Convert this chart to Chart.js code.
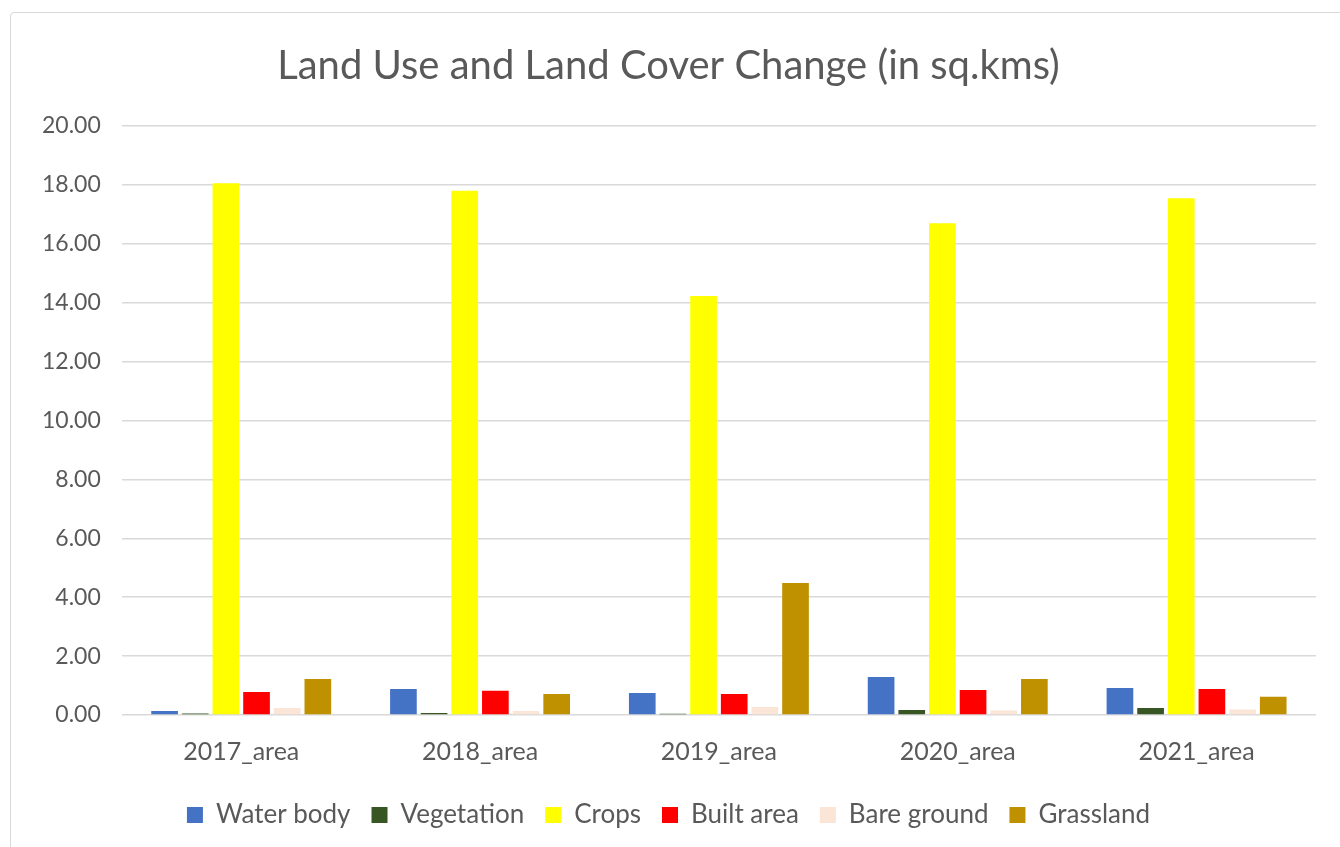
<!DOCTYPE html>
<html>
<head>
<meta charset="utf-8">
<script src="https://cdn.jsdelivr.net/npm/chart.js@4.4.1/dist/chart.umd.min.js"></script>
<style>
  html, body { margin: 0; padding: 0; background: #fff; overflow: hidden; }
  #box {
    position: absolute; left: 10px; top: 12px;
    width: 1340px; height: 850px;
    border: 1px solid #d9d9d9; border-radius: 4px;
    box-sizing: border-box;
  }
  #wrap { position: absolute; left: 0; top: 0; width: 1330px; height: 835px; }
</style>
</head>
<body>
<div id="box"><div id="wrap"><canvas id="landChart"></canvas></div></div>
<script>
const years = ["2017_area", "2018_area", "2019_area", "2020_area", "2021_area"];

const waterBody  = [0.14, 0.88, 0.75, 1.29, 0.92];
const vegetation = [0.05, 0.07, 0.04, 0.17, 0.24];
const crops      = [18.06, 17.80, 14.23, 16.70, 17.55];
const builtArea  = [0.78, 0.82, 0.71, 0.85, 0.88];
const bareGround = [0.24, 0.14, 0.27, 0.15, 0.19];
const grassland  = [1.22, 0.71, 4.48, 1.22, 0.62];

const fontFam = "Lato, 'Open Sans', sans-serif";
const textCol = "#595959";

function initChart() {
    const ctx = document.getElementById("landChart");
    const mk = (label, data, color) => ({
        label: label,
        data: data,
        backgroundColor: color,
        borderWidth: 0,
        barPercentage: 0.87,
        categoryPercentage: 0.77
    });

    new Chart(ctx, {
        type: "bar",
        data: {
            labels: years,
            datasets: [
                mk("Water body", waterBody, "#4472C4"),
                mk("Vegetation", vegetation, "#375623"),
                mk("Crops", crops, "#FFFF00"),
                mk("Built area", builtArea, "#FF0000"),
                mk("Bare ground", bareGround, "#FBE5D6"),
                mk("Grassland", grassland, "#BF9000")
            ]
        },
        options: {
            responsive: true,
            maintainAspectRatio: false,
            animation: false,
            layout: { padding: { left: 10, right: 25, top: 21, bottom: 10 } },
            scales: {
                x: {
                    grid: { display: false },
                    border: { display: false },
                    ticks: { color: textCol, font: { family: fontFam, size: 25 }, padding: 14 }
                },
                y: {
                    min: 0,
                    max: 20,
                    border: { display: false },
                    grid: { color: "#d9d9d9", lineWidth: 1.5, drawTicks: false },
                    ticks: {
                        stepSize: 2,
                        color: textCol,
                        padding: 21,
                        font: { family: fontFam, size: 23 },
                        callback: v => Number(v).toFixed(2)
                    }
                }
            },
            plugins: {
                title: {
                    display: true,
                    text: "Land Use and Land Cover Change (in sq.kms)",
                    color: textCol,
                    font: { family: fontFam, size: 40, weight: "normal" },
                    padding: { top: 8, bottom: 36 }
                },
                legend: {
                    position: "bottom",
                    labels: {
                        color: textCol,
                        font: { family: fontFam, size: 26 },
                        boxWidth: 16,
                        boxHeight: 16,
                        padding: 21
                    }
                },
                tooltip: { enabled: false }
            }
        }
    });
}

document.addEventListener("DOMContentLoaded", initChart);
</script>
</body>
</html>
